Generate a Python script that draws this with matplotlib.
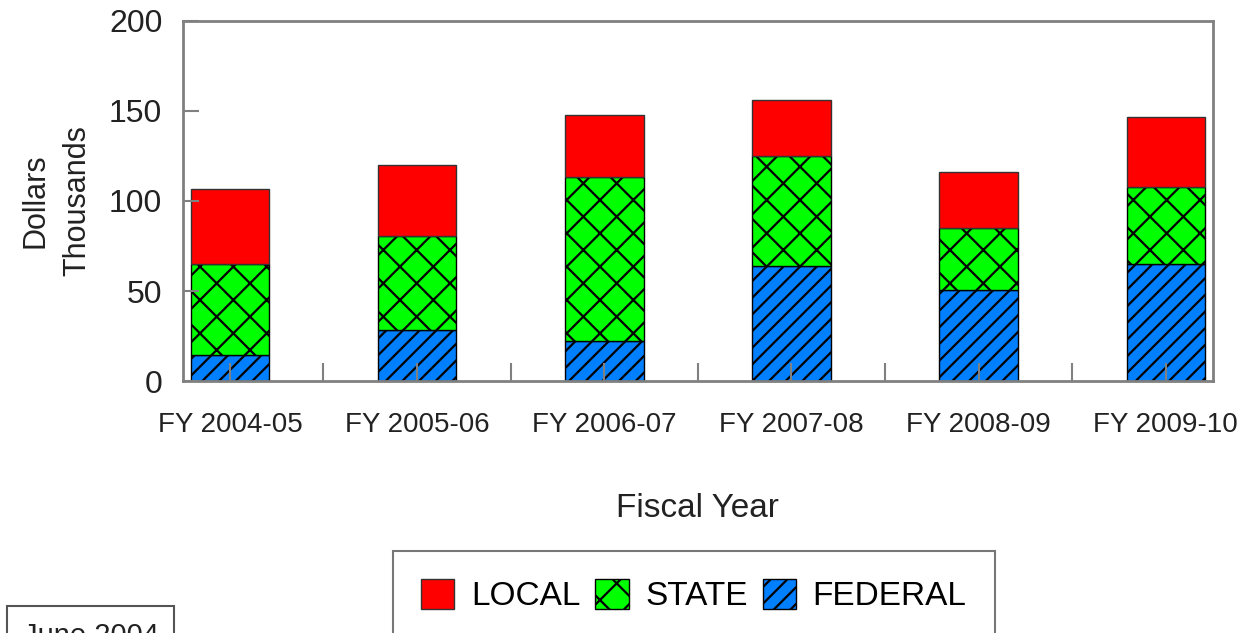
import numpy as np
import matplotlib
matplotlib.use("Agg")
import matplotlib.pyplot as plt

plt.rcParams['font.family'] = ['Liberation Sans', 'DejaVu Sans']
plt.rcParams['hatch.linewidth'] = 1.6
plt.rcParams['hatch.color'] = 'black'

# data (thousands of dollars)
years = ["FY 2004-05", "FY 2005-06", "FY 2006-07", "FY 2007-08", "FY 2008-09", "FY 2009-10"]
federal = [14.5, 28.3, 22.2, 64.1, 50.4, 64.8]
state = [50.5, 52.2, 91.1, 61.1, 34.8, 42.8]
local = [41.5, 39.5, 34.5, 30.9, 31.1, 39.2]

fig = plt.figure(figsize=(12.54, 6.33), dpi=100)
ax = fig.add_axes([0.146, 0.398, 0.821, 0.569])

x = np.arange(len(years))
w = 0.42
fed = np.array(federal)
st = np.array(state)
lo = np.array(local)

ax.bar(x, fed, w, color='#0080FF', edgecolor='black', linewidth=1, hatch='//', label='FEDERAL')
ax.bar(x, st, w, bottom=fed, color='#00FF00', edgecolor='black', linewidth=1, hatch='x', label='STATE')
ax.bar(x, lo, w, bottom=fed + st, color='#FF0000', edgecolor='#333333', linewidth=1, label='LOCAL')

ax.set_xlim(-0.25, 5.25)
ax.set_ylim(0, 200)
ax.set_yticks([0, 50, 100, 150, 200])
ax.set_xticks(x)
ax.set_xticklabels(years)
ax.set_xticks(x[:-1] + 0.5, minor=True)

for s in ax.spines.values():
    s.set_color('#808080')
    s.set_linewidth(2)

ax.tick_params(axis='y', direction='in', length=11.5, width=1.5, color='#808080',
               labelsize=23, pad=15, labelcolor='#222222')
ax.tick_params(axis='x', which='both', direction='in', length=13, width=1.5, color='#808080',
               labelsize=20, pad=22, labelcolor='#222222')

ax.set_ylabel("Dollars\nThousands", fontsize=22, color='#222222', labelpad=12, linespacing=1.5)
ax.set_xlabel("Fiscal Year", fontsize=24, color='#222222', labelpad=40)

h, l = ax.get_legend_handles_labels()
leg = fig.legend(h[::-1], l[::-1], loc='upper left', bbox_to_anchor=(0.313, 0.130),
                 ncol=3, fontsize=24, frameon=True, fancybox=False, edgecolor='#555555',
                 handlelength=1.0, handleheight=1.0, columnspacing=0.45, handletextpad=0.5,
                 borderpad=0.85, borderaxespad=0)
leg.get_frame().set_linewidth(1.5)

fig.text(0.018, -0.005, "June 2004", fontsize=21, color='#222222', va='center', ha='left',
         bbox=dict(boxstyle='square,pad=0.55', fc='white', ec='#555555', lw=1.5))

fig.savefig("out.png", dpi=100)
